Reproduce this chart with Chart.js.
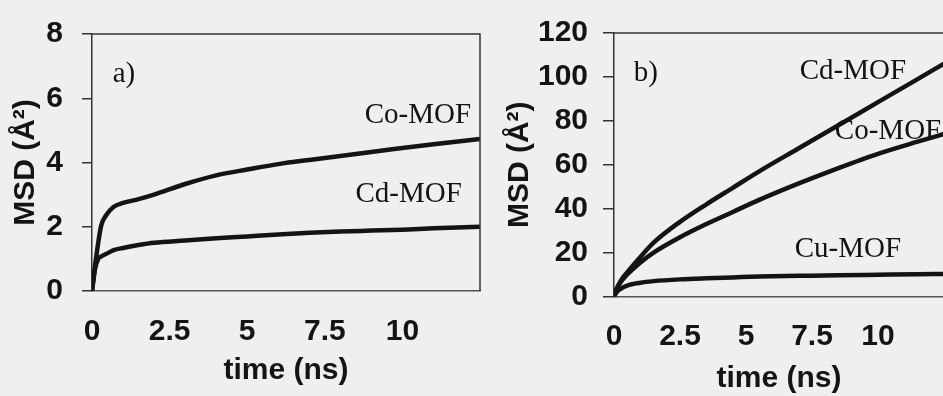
<!DOCTYPE html>
<html>
<head>
<meta charset="utf-8">
<script src="https://cdn.jsdelivr.net/npm/chart.js@4.4.0/dist/chart.umd.min.js"></script>
<style>
  html, body { margin: 0; padding: 0; background: #efefef; overflow: hidden; width: 943px; height: 396px; }
  canvas { position: absolute; top: 0; }
  #chartA { left: 0; }
  #chartB { left: 490px; }
</style>
</head>
<body>
<canvas id="chartA" width="482" height="396"></canvas>
<canvas id="chartB" width="456" height="396"></canvas>
<script>
// panel a) data
const timeA = [0, 0.1, 0.2, 0.3, 0.45, 0.7, 1, 1.5, 2, 3, 4, 5, 6, 7, 8, 9, 10, 11, 12.5];
const coA   = [0, 0.8, 1.5, 2.05, 2.35, 2.62, 2.74, 2.86, 3.0, 3.33, 3.6, 3.78, 3.95, 4.08, 4.2, 4.33, 4.45, 4.57, 4.73];
const cdA   = [0, 0.7, 1.0, 1.08, 1.15, 1.27, 1.34, 1.43, 1.5, 1.57, 1.64, 1.7, 1.76, 1.81, 1.85, 1.88, 1.91, 1.95, 2.0];

// panel b) data
const timeB = [0, 0.1, 0.25, 0.5, 1, 1.5, 2.5, 3.5, 4.5, 5.5, 7, 8.5, 10, 11.5, 12.5];
const cdB   = [0, 3.5, 7, 11, 18, 24.5, 34, 42, 49.5, 57, 67.5, 78, 88.5, 99, 106];
const coB   = [0, 3.3, 6.5, 10, 15.5, 20, 27, 33, 38.5, 44, 51.5, 58.5, 65, 70.5, 74];
const cuB   = [0, 2, 3.5, 5, 6.3, 7, 7.8, 8.3, 8.7, 9.1, 9.4, 9.7, 9.9, 10.1, 10.3];

const xTicks = [0, 2.5, 5, 7.5, 10];

// text labels inside the plots: [text, x, y]
const notesA = [['a)', 1.03, 6.5], ['Co-MOF', 10.5, 5.23], ['Cd-MOF', 10.2, 2.78]];
const notesB = [['b)', 1.21, 98], ['Cd-MOF', 9.05, 98.9], ['Co-MOF', 10.38, 71.5], ['Cu-MOF', 8.86, 18]];

const ink = '#141414';
const sans = 'Liberation Sans';

function pts(xs, ys) {
  return xs.map((x, i) => ({ x: x, y: ys[i] }));
}

function series(xs, ys, w) {
  return {
    data: pts(xs, ys),
    borderColor: ink,
    borderWidth: w,
    pointRadius: 0,
    cubicInterpolationMode: 'monotone',
    fill: false
  };
}

// frame on top and right + the little text labels
const extras = {
  id: 'extras',
  afterDraw(chart, args, opts) {
    const { ctx, chartArea: a, scales } = chart;
    ctx.save();
    ctx.strokeStyle = '#333';
    ctx.lineWidth = 1.5;
    ctx.beginPath();
    ctx.moveTo(a.left, a.top);
    ctx.lineTo(a.right, a.top);
    ctx.lineTo(a.right, a.bottom);
    ctx.stroke();
    ctx.fillStyle = ink;
    ctx.font = '29px "Liberation Serif"';
    ctx.textAlign = 'center';
    ctx.textBaseline = 'alphabetic';
    opts.notes.forEach(([t, x, y]) => {
      ctx.fillText(t, scales.x.getPixelForValue(x), scales.y.getPixelForValue(y));
    });
    ctx.restore();
  }
};

function makeChart(id, datasets, cfg) {
  const ctx = document.getElementById(id).getContext('2d');
  return new Chart(ctx, {
    type: 'line',
    data: { datasets: datasets },
    plugins: [extras],
    options: {
      responsive: false,
      animation: false,
      devicePixelRatio: 1,
      layout: { padding: { left: 0, top: cfg.top, right: 2, bottom: 0 } },
      plugins: {
        legend: { display: false },
        tooltip: { enabled: false },
        extras: { notes: cfg.notes }
      },
      scales: {
        x: {
          type: 'linear',
          min: 0,
          max: 12.5,
          afterFit: s => { s.height = 396 - cfg.bottom; },
          afterBuildTicks: s => { s.ticks = xTicks.map(v => ({ value: v })); },
          ticks: {
            color: ink,
            padding: cfg.xPad,
            font: { family: sans, weight: 'bold', size: 30, lineHeight: 1 },
            callback: v => String(v)
          },
          grid: { display: false, drawTicks: false },
          border: { display: true, color: '#555', width: 1.5 },
          title: {
            display: true,
            text: 'time (ns)',
            color: ink,
            font: { family: sans, weight: 'bold', size: 30, lineHeight: 1 },
            padding: { top: 0, bottom: cfg.xTitlePad }
          }
        },
        y: {
          min: 0,
          max: cfg.yMax,
          afterFit: s => { s.width = cfg.left; },
          ticks: {
            stepSize: cfg.yStep,
            color: ink,
            padding: cfg.yPad,
            font: { family: sans, weight: 'bold', size: 30, lineHeight: 1 }
          },
          grid: { drawOnChartArea: false, drawTicks: true, tickLength: cfg.tick, color: '#333', lineWidth: 1.5 },
          border: { display: true, color: '#333', width: 1.5 },
          title: {
            display: true,
            text: 'MSD (Å²)',
            color: ink,
            font: { family: sans, weight: 'bold', size: 30, lineHeight: 1 },
            padding: { top: cfg.yTitlePad, bottom: 0 }
          }
        }
      }
    }
  });
}

makeChart('chartA', [series(timeA, coA, 4.5), series(timeA, cdA, 4.5)], {
  top: 26, bottom: 291, left: 92, yMax: 8, yStep: 2,
  xPad: 26, xTitlePad: 10, yPad: 19, tick: 10, yTitlePad: 11, notes: notesA
});

makeChart('chartB', [series(timeB, cdB, 4.5), series(timeB, coB, 4.5), series(timeB, cuB, 4.5)], {
  top: 33, bottom: 296.5, left: 124, yMax: 120, yStep: 20,
  xPad: 25, xTitlePad: 2, yPad: 15, tick: 11, yTitlePad: 15, notes: notesB
});
</script>
</body>
</html>
